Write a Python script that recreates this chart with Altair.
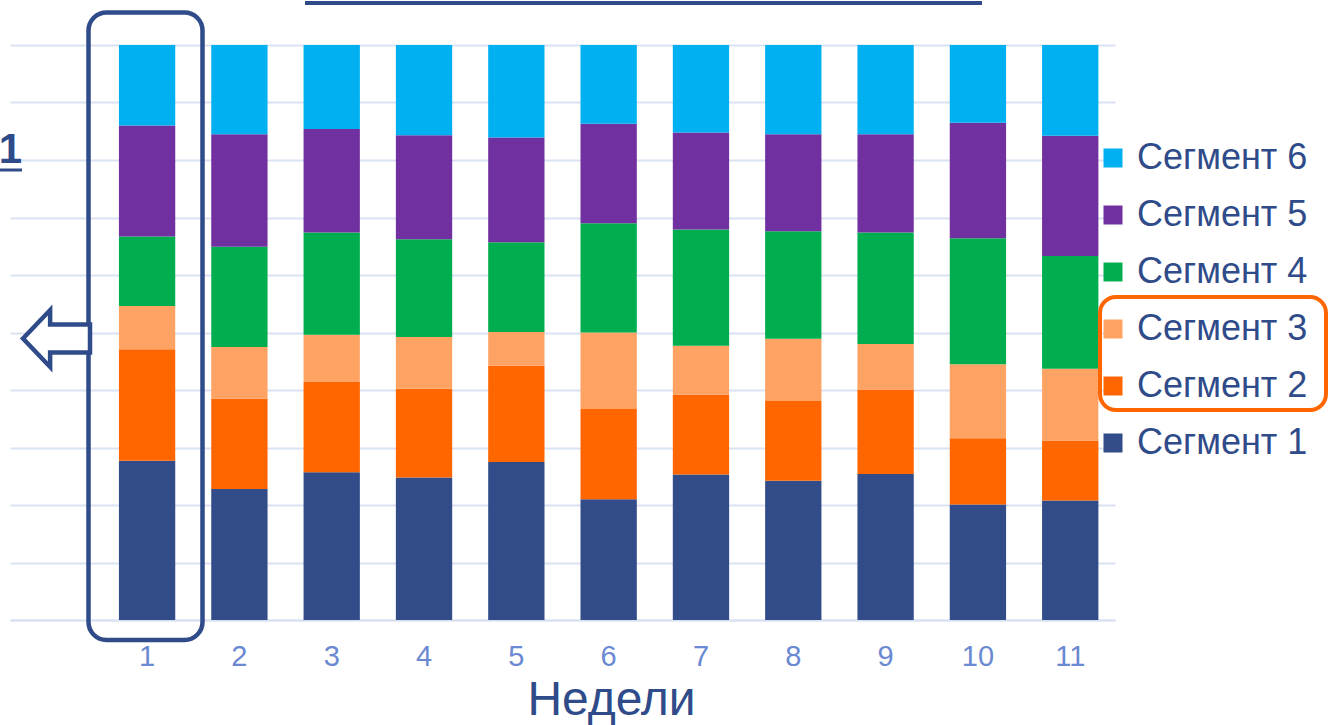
import altair as alt
import pandas as pd

weeks = [1, 2, 3, 4, 5, 6, 7, 8, 9, 10, 11]
segments = ["Сегмент 1", "Сегмент 2", "Сегмент 3", "Сегмент 4", "Сегмент 5", "Сегмент 6"]
s1 = [27.7, 22.8, 25.7, 24.8, 27.5, 21.0, 25.3, 24.2, 25.4, 20.1, 20.8]
s2 = [19.4, 15.7, 15.7, 15.4, 16.7, 15.7, 13.9, 13.9, 14.7, 11.5, 10.4]
s3 = [7.5, 9.0, 8.2, 9.0, 5.9, 13.3, 8.5, 10.8, 7.9, 12.9, 12.5]
s4 = [12.1, 17.4, 17.8, 17.0, 15.6, 19.0, 20.2, 18.7, 19.4, 21.9, 19.6]
s5 = [19.3, 19.6, 18.0, 18.1, 18.2, 17.3, 16.9, 16.9, 17.1, 20.1, 20.9]
s6 = [14.0, 15.5, 14.6, 15.7, 16.1, 13.7, 15.2, 15.5, 15.5, 13.5, 15.8]
colors = ["#314C89", "#FF6600", "#FFA365", "#00AE4F", "#7030A0", "#00B0F0"]
x_domain = [0] + weeks

rows = []
for idx, (name, vals) in enumerate(zip(segments, [s1, s2, s3, s4, s5, s6])):
    for w, v in zip(weeks, vals):
        rows.append({"week": w, "segment": name, "value": v, "order": idx})
df = pd.DataFrame(rows)

DARK = "#2F4B89"
FONT = "Liberation Sans"

bars = alt.Chart(df).mark_bar(strokeWidth=0).encode(
    x=alt.X("week:O", scale=alt.Scale(domain=x_domain, paddingInner=0.39, paddingOuter=0.18),
            axis=alt.Axis(title="Недели", labelAngle=0, labelFontSize=29, labelColor="#6B89D2",
                          labelFont=FONT, labelPadding=22, ticks=False, domain=True,
                          domainColor="#D9E1F2", domainWidth=2,
                          labelExpr="datum.value == 0 ? '' : datum.value",
                          titleFontSize=48, titleColor=DARK, titleFont=FONT, titleFontWeight="normal",
                          titleX=601, titleY=94, titleAlign="center", titleBaseline="alphabetic")),
    y=alt.Y("value:Q", stack="normalize",
            scale=alt.Scale(domain=[0, 1]),
            axis=alt.Axis(title=None, labels=False, ticks=False, domain=False,
                          values=[i / 10 for i in range(11)], gridColor="#D9E1F2", gridWidth=2)),
    color=alt.Color("segment:N",
                    scale=alt.Scale(domain=segments[::-1], range=colors[::-1]),
                    legend=alt.Legend(title=None, orient="none", legendX=1085, legendY=95,
                                      padding=0, labelLimit=0,
                                      symbolType="square", symbolSize=361, symbolStrokeWidth=0,
                                      labelFontSize=36, labelColor=DARK, labelFont=FONT,
                                      labelOffset=6, rowPadding=21)),
    order=alt.Order("order:Q", sort="ascending"),
)

one = pd.DataFrame({"a": [0]})

underline_top = alt.Chart(one).mark_rule(color=DARK, strokeWidth=4).encode(
    x=alt.value(295), x2=alt.value(972), y=alt.value(-42))

label_one = alt.Chart(one).mark_text(text="1", font=FONT, fontSize=42, fontWeight="bold",
                                     color=DARK, align="right", baseline="alphabetic").encode(
    x=alt.value(12), y=alt.value(118))
label_one_ul = alt.Chart(one).mark_rule(color=DARK, strokeWidth=3).encode(
    x=alt.value(-10), x2=alt.value(12), y=alt.value(125))

arrow_path = "M -1 0 L -0.19 -0.85 L -0.19 -0.42 L 1 -0.42 L 1 0.42 L -0.19 0.42 L -0.19 0.85 Z"
arrow = alt.Chart(one).mark_point(shape=arrow_path, size=4489, filled=True, fill="white",
                                  stroke=DARK, strokeWidth=4.5, opacity=1).encode(
    x=alt.value(46.5), y=alt.value(293.5))

box1 = alt.Chart(one).mark_rect(fill="transparent", stroke=DARK, strokeWidth=4.5, cornerRadius=18).encode(
    x=alt.value(78.5), x2=alt.value(192.5), y=alt.value(-32.5), y2=alt.value(595))

box_leg = alt.Chart(one).mark_rect(fill="transparent", stroke="#FF6600", strokeWidth=4, cornerRadius=16).encode(
    x=alt.value(1090), x2=alt.value(1316), y=alt.value(252), y2=alt.value(365))

chart = alt.layer(bars, underline_top, label_one, label_one_ul, box1, arrow, box_leg).properties(
    width=1105, height=575,
    background="white",
    autosize=alt.AutoSizeParams(type="none"),
    padding={"left": 10, "top": 45, "right": 213, "bottom": 105},
).configure_view(stroke=None)

chart.save("out.html", embed_options={"renderer": "svg", "actions": False})
